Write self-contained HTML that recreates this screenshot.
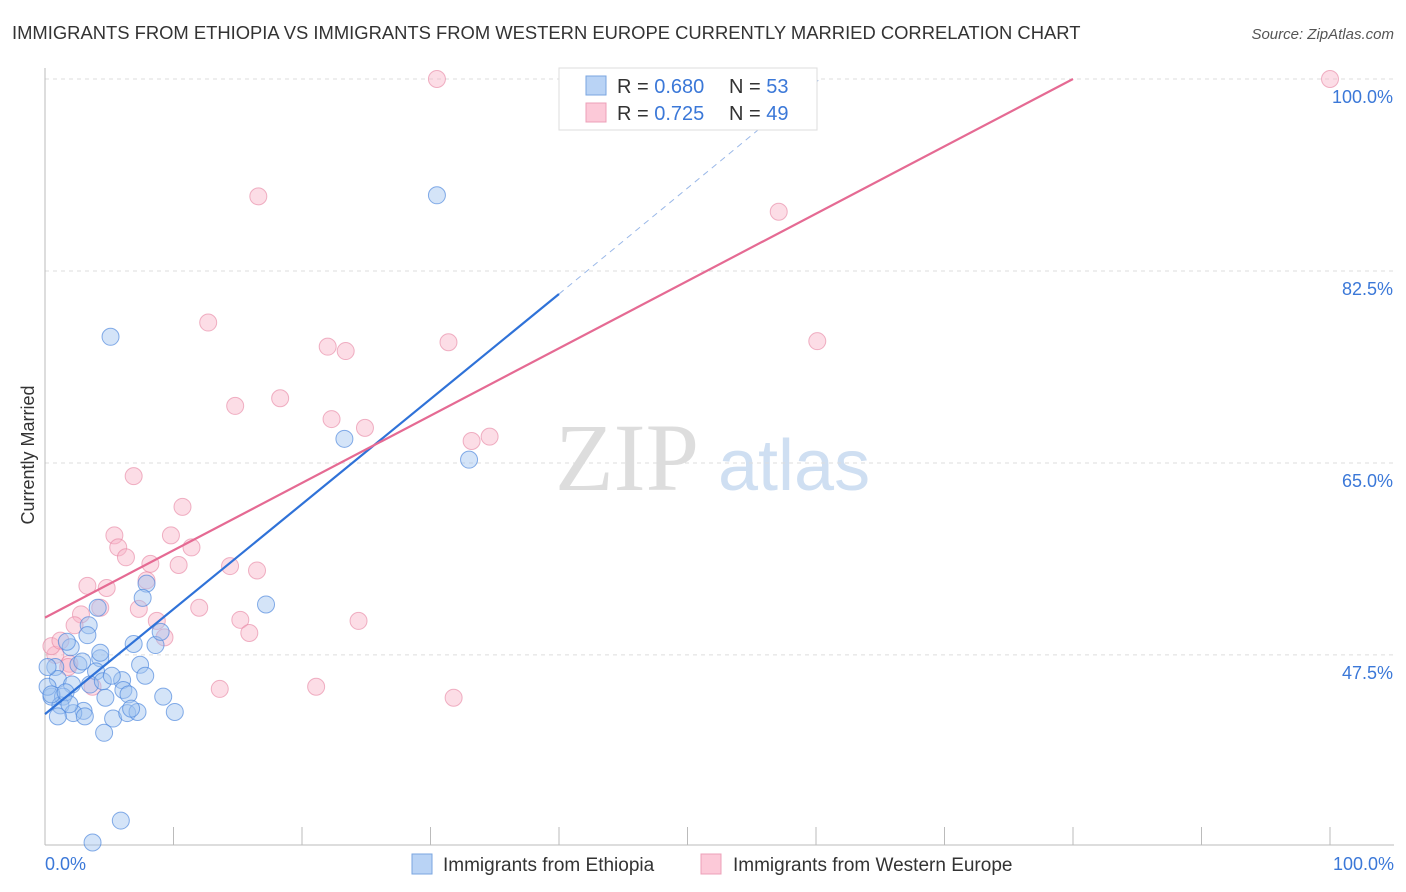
<!DOCTYPE html>
<html><head><meta charset="utf-8"><style>
body{margin:0;background:#fff;font-family:"Liberation Sans",sans-serif}
</style></head><body>
<svg width="1406" height="892" style="display:block">
<text x="12" y="39" font-size="18.4" fill="#333">IMMIGRANTS FROM ETHIOPIA VS IMMIGRANTS FROM WESTERN EUROPE CURRENTLY MARRIED CORRELATION CHART</text>
<text x="1394" y="39" font-size="15" fill="#555" font-style="italic" text-anchor="end">Source: ZipAtlas.com</text>
<text x="555" y="490" font-size="96" fill="#ddd" font-family="Liberation Serif,serif">ZIP</text>
<text x="718" y="490" font-size="72" fill="#cfdff2">atlas</text>
<g id="grid"></g><g id="axes"></g><g id="pts"></g><g id="lines"></g>
<text transform="translate(34,455) rotate(-90)" font-size="18" fill="#333" text-anchor="middle">Currently Married</text>
<text x="45" y="870" font-size="18" fill="#3b78d8">0.0%</text>
<text x="1394" y="870" font-size="18" fill="#3b78d8" text-anchor="end">100.0%</text>
<g>
<rect x="559" y="68" width="258" height="62" fill="#fff" stroke="#ddd"/>
<rect x="586" y="76" width="20" height="19" fill="#b9d3f5" stroke="#7aa6e0"/>
<rect x="586" y="103" width="20" height="19" fill="#fcc9d8" stroke="#eca0b8"/>
<text x="617" y="93" font-size="20" fill="#333">R = <tspan fill="#3b78d8">0.680</tspan></text>
<text x="729" y="93" font-size="20" fill="#333">N = <tspan fill="#3b78d8">53</tspan></text>
<text x="617" y="120" font-size="20" fill="#333">R =  <tspan fill="#3b78d8">0.725</tspan></text>
<text x="729" y="120" font-size="20" fill="#333">N = <tspan fill="#3b78d8">49</tspan></text>
</g>
<g>
<rect x="412" y="854" width="20" height="20" fill="#b9d3f5" stroke="#7aa6e0"/>
<text x="443" y="871" font-size="19" fill="#333">Immigrants from Ethiopia</text>
<rect x="701" y="854" width="20" height="20" fill="#fcc9d8" stroke="#eca0b8"/>
<text x="733" y="871" font-size="19" fill="#333">Immigrants from Western Europe</text>
</g>
</svg>
<script>
const yTicks=[100,82.5,65,47.5];
const yTickLabels=["100.0%","82.5%","65.0%","47.5%"];
const xTicks=[0,10,20,30,40,50,60,70,80,90,100];
const blueX=[5.1,30.5,23.3,33,17.2,7.9,7.6,4.1,3.4,3.3,2,6.9,8.6,9,0.8,2.6,4.3,7.4,7.8,3.970,1,2.1,3.5,4.5,6,6.1,6.5,4.7,9.2,0.5,1.4,0.2,1.2,3,2.2,1,3.1,5.3,6.4,7.2,10.1,6.7,4.6,5.9,3.7,0.5,1.6,0.2,1.9,1.7,4.3,5.2,2.9];
const blueY=[76.5,89.4,67.2,65.3,52.1,54,52.7,51.8,50.2,49.3,48.2,48.5,48.4,49.6,46.4,46.6,47.2,46.6,45.6,46,45.3,44.8,44.8,45.1,45.2,44.3,43.9,43.6,43.7,43.7,43.7,44.6,42.9,42.4,42.2,41.9,41.9,41.7,42.2,42.3,42.3,42.6,40.4,32.4,30.4,43.9,44.1,46.4,43,48.7,47.7,45.6,46.9];
const pinkX=[30.5,47.6,50.2,100,16.6,57.1,12.7,60.1,22,23.4,31.4,14.8,18.3,22.3,24.9,33.2,34.6,6.9,10.7,5.4,9.8,5.7,11.4,6.3,14.4,16.5,10.4,8.2,3.3,4.8,7.9,12,7.3,4.3,2.8,15.2,24.4,8.7,2.3,9.3,15.9,0.8,1.9,1.8,13.6,21.1,31.8,3.7,0.5,1.2];
const pinkY=[100,100,100,100,89.3,87.9,77.8,76.1,75.6,75.2,76,70.2,70.9,69,68.2,67,67.4,63.8,61,58.4,58.4,57.3,57.3,56.4,55.6,55.2,55.7,55.8,53.8,53.6,54.3,51.8,51.7,51.8,51.2,50.7,50.6,50.6,50.2,49.1,49.5,47.5,46.7,46.4,44.4,44.6,43.6,44.6,48.3,48.8];
const X=v=>45+v*12.85, Y=v=>79+(100-v)*10.97;
const NS="http://www.w3.org/2000/svg";
function mk(t,a,p){const e=document.createElementNS(NS,t);for(const k in a)e.setAttribute(k,a[k]);document.getElementById(p).appendChild(e);return e;}
yTicks.forEach((v,i)=>{
 const l=mk('line',{x1:45,x2:1394,y1:Y(v),y2:Y(v),stroke:'#ddd','stroke-dasharray':'4,4'},'grid');
 
 
 const t=mk('text',{x:1393,y:Y(v)+24,'font-size':18,fill:'#3b78d8','text-anchor':'end'},'grid');
 t.textContent=yTickLabels[i];
 
 
});
let a=mk('line',{x1:45,x2:45,y1:68,y2:845,stroke:'#bbb'},'axes');


a=mk('line',{x1:45,x2:1394,y1:845,y2:845,stroke:'#bbb'},'axes');


xTicks.forEach(v=>{const t=mk('line',{x1:X(v),x2:X(v),y1:827,y2:845,stroke:'#bbb'},'axes');
 
 });
pinkX.forEach((x,i)=>{const c=mk('circle',{cx:X(x),cy:Y(pinkY[i]),r:8.5,fill:'rgba(248,180,200,0.45)',stroke:'rgba(230,130,160,0.6)'},'pts');
 
 });
blueX.forEach((x,i)=>{const c=mk('circle',{cx:X(x),cy:Y(blueY[i]),r:8.5,fill:'rgba(160,195,240,0.45)',stroke:'rgba(70,130,220,0.65)'},'pts');
 
 });
let t=mk('line',{x1:X(0),y1:Y(42.1),x2:X(40),y2:Y(80.4),stroke:'#2f72d8','stroke-width':2.2},'lines');


t=mk('line',{x1:X(40),y1:Y(80.4),x2:X(60.3),y2:Y(100),stroke:'#9ab8e8','stroke-width':1,'stroke-dasharray':'6,5'},'lines');


t=mk('line',{x1:X(0),y1:Y(50.9),x2:X(80),y2:Y(100),stroke:'#e56a93','stroke-width':2.2},'lines');


</script>
</body></html>
